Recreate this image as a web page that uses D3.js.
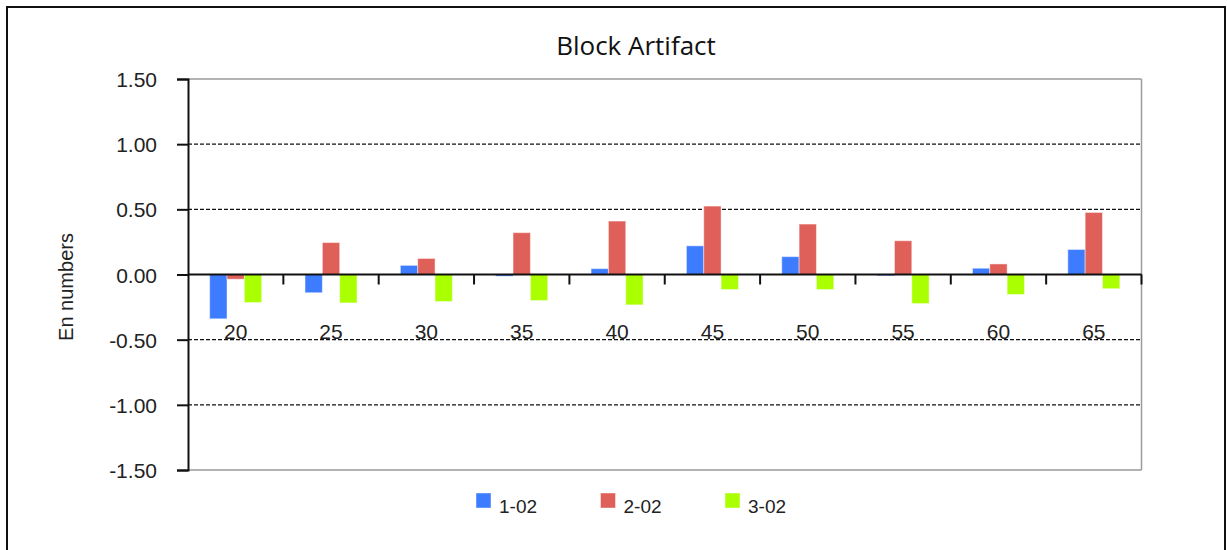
<!DOCTYPE html>
<html>
<head>
<meta charset="utf-8">
<script src="https://cdn.jsdelivr.net/npm/d3@7"></script>
<style>
  html, body { margin: 0; padding: 0; background: #fff; }
  svg { display: block; }
  text { font-family: "Liberation Sans", Arial, sans-serif; fill: #222; }
</style>
</head>
<body>
<svg id="chart" width="1227" height="550"></svg>
<script>
// Ages along the x axis
const categories = ["20", "25", "30", "35", "40", "45", "50", "55", "60", "65"];
// Series names and colours
const seriesNames = ["1-02", "2-02", "3-02"];
const seriesColors = ["#3d7cff", "#df5f59", "#aaff00"];
// En numbers per series
const values102 = [-0.34, -0.14, 0.07, -0.013, 0.045, 0.22, 0.137, -0.01, 0.048, 0.192];
const values202 = [-0.036, 0.245, 0.123, 0.321, 0.41, 0.525, 0.387, 0.259, 0.081, 0.476];
const values302 = [-0.215, -0.218, -0.207, -0.2, -0.233, -0.115, -0.115, -0.223, -0.153, -0.109];
// Y axis ticks
const yTickValues = [-1.5, -1.0, -0.5, 0, 0.5, 1.0, 1.5];
const yTickLabels = ["-1.50", "-1.00", "-0.50", "0.00", "0.50", "1.00", "1.50"];

const seriesValues = [values102, values202, values302];

const svg = d3.select("#chart");
const plot = { left: 188, right: 1141.5, top: 79, bottom: 470 };

const x = d3.scaleBand().domain(categories).range([plot.left, plot.right]).padding(0);
const groupWidth = 52;
const xInner = d3.scaleBand().domain(seriesNames).range([0, groupWidth]).padding(0);
const y = d3.scaleLinear().domain([-1.5, 1.5]).range([plot.bottom, plot.top]);

// Outer frame
svg.append("rect")
  .attr("x", 7).attr("y", 7).attr("width", 1218).attr("height", 580)
  .attr("fill", "none").attr("stroke", "#111").attr("stroke-width", 2);

// Title
svg.append("text")
  .attr("x", 636).attr("y", 55)
  .attr("text-anchor", "middle")
  .style("font-family", "'Open Sans', sans-serif")
  .style("font-size", "26px")
  .style("fill", "#111")
  .text("Block Artifact");

// Plot frame (top, bottom, right) in grey
const frame = svg.append("g").attr("stroke", "#9a9a9a").attr("stroke-width", 1.5).attr("fill", "none");
frame.append("line").attr("x1", plot.left).attr("x2", plot.right).attr("y1", y(1.5)).attr("y2", y(1.5));
frame.append("line").attr("x1", plot.left).attr("x2", plot.right).attr("y1", y(-1.5)).attr("y2", y(-1.5));
frame.append("line").attr("x1", plot.right).attr("x2", plot.right).attr("y1", y(1.5)).attr("y2", y(-1.5));

// Dashed gridlines
svg.append("g")
  .selectAll("line")
  .data(yTickValues.filter(v => Math.abs(v) > 0 && Math.abs(v) < 1.5))
  .join("line")
  .attr("x1", plot.left).attr("x2", plot.right)
  .attr("y1", d => y(d)).attr("y2", d => y(d))
  .attr("stroke", "#111").attr("stroke-width", 1.2)
  .attr("stroke-dasharray", "4,2");

// Bars
const groups = svg.append("g")
  .selectAll("g")
  .data(categories)
  .join("g")
  .attr("transform", d => `translate(${x(d) + (x.bandwidth() - groupWidth) / 2},0)`);

groups.selectAll("rect")
  .data((d, i) => seriesNames.map((s, k) => ({ series: s, k, value: seriesValues[k][i] })))
  .join("rect")
  .attr("x", d => xInner(d.series))
  .attr("width", xInner.bandwidth())
  .attr("y", d => y(Math.max(0, d.value)))
  .attr("height", d => Math.abs(y(d.value) - y(0)))
  .attr("fill", d => seriesColors[d.k])
  .attr("stroke", "rgba(255,255,255,0.45)")
  .attr("stroke-width", 1);

// X axis at zero
const xAxis = svg.append("g");
xAxis.append("line")
  .attr("x1", plot.left).attr("x2", plot.right)
  .attr("y1", y(0)).attr("y2", y(0))
  .attr("stroke", "#111").attr("stroke-width", 2);
xAxis.selectAll("line.tick")
  .data(categories.slice(1).map(c => x(c)).concat([plot.right]))
  .join("line")
  .attr("class", "tick")
  .attr("x1", d => d).attr("x2", d => d)
  .attr("y1", y(0)).attr("y2", y(0) + 10)
  .attr("stroke", "#111").attr("stroke-width", 2);
xAxis.selectAll("text")
  .data(categories)
  .join("text")
  .attr("x", d => x(d) + x.bandwidth() / 2)
  .attr("y", 339)
  .attr("text-anchor", "middle")
  .style("font-size", "21px")
  .text(d => d);

// Y axis
const yAxis = d3.axisLeft(y)
  .tickValues(yTickValues)
  .tickSize(11)
  .tickPadding(20)
  .tickFormat((d, i) => yTickLabels[i]);
const gy = svg.append("g")
  .attr("transform", `translate(${plot.left},0)`)
  .call(yAxis);
gy.select(".domain").attr("stroke", "#111").attr("stroke-width", 2);
gy.selectAll(".tick line").attr("stroke", "#111").attr("stroke-width", 2);
gy.selectAll(".tick text")
  .style("font-family", "'Liberation Sans', Arial, sans-serif")
  .style("font-size", "21px")
  .attr("fill", "#222")
  .attr("dy", "0.36em");

// Y axis title
svg.append("text")
  .attr("transform", "translate(73,287) rotate(-90)")
  .attr("text-anchor", "middle")
  .style("font-size", "20px")
  .text("En numbers");

// Legend
const legend = svg.append("g")
  .selectAll("g")
  .data(seriesNames)
  .join("g")
  .attr("transform", (d, i) => `translate(${476 + i * 124.5},493)`);
legend.append("rect")
  .attr("width", 15).attr("height", 15)
  .attr("fill", (d, i) => seriesColors[i])
  .attr("stroke", "rgba(255,255,255,0.45)");
legend.append("text")
  .attr("x", 23).attr("y", 20)
  .style("font-size", "19px")
  .text(d => d);
</script>
</body>
</html>
